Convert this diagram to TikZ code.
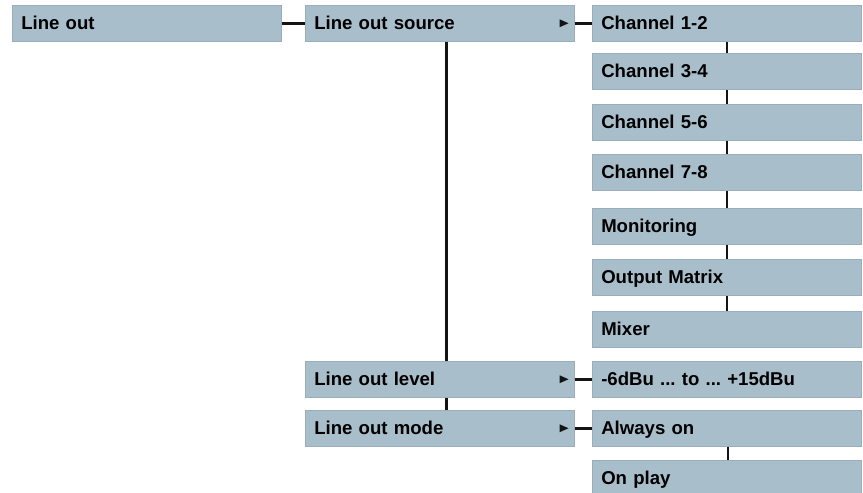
\documentclass[tikz,border=0pt]{standalone}
\usepackage{fontspec}
\setmainfont{Liberation Sans}
\frenchspacing
\begin{document}
\begin{tikzpicture}[x=1pt, y=-1pt,
		menubox/.style={fill=boxcolor, draw=edgecolor, line width=0.5pt, anchor=north west,
			minimum width=269pt, minimum height=36pt, text width=251pt, inner xsep=9pt, inner ysep=0pt,
			text height=13.4pt, text depth=0pt, align=left,
			font=\fontsize{18.6}{20}\selectfont\bfseries},
		link/.style={draw=linecolor, line width=2.7pt}]
			\definecolor{boxcolor}{rgb}{0.663, 0.745, 0.796}
			\definecolor{edgecolor}{rgb}{0.60, 0.68, 0.73}
			\definecolor{linecolor}{rgb}{0.08, 0.08, 0.08}
			\useasboundingbox (0, 0) rectangle (863, 493);

			\node[menubox] (lineout) at (12, 5) {Line out};
			\node[menubox] (source) at (305, 5) {Line out source};
			\node[menubox] (level) at (305, 361) {Line out level};
			\node[menubox] (mode) at (305, 410) {Line out mode};

			\node[menubox] (ch12) at (592, 5) {Channel 1-2};
			\node[menubox] (ch34) at (592, 53) {Channel 3-4};
			\node[menubox] (ch56) at (592, 104) {Channel 5-6};
			\node[menubox] (ch78) at (592, 154) {Channel 7-8};
			\node[menubox] (monitor) at (592, 208) {Monitoring};
			\node[menubox] (matrix) at (592, 259) {Output Matrix};
			\node[menubox] (mixer) at (592, 311) {Mixer};
			\node[menubox] (range) at (592, 361) {-6dBu ... to ... +15dBu};
			\node[menubox] (always) at (592, 410) {Always on};
			\node[menubox] (onplay) at (592, 460) {On play};

			\draw[link] (lineout.east) -- (source.west);
			\begin{scope}[link]
				\draw (source.east) -- (ch12.west);
				\draw (level.east) -- (range.west);
				\draw (mode.east) -- (always.west);
				\draw ([xshift=6.5pt]source.south) -- ([xshift=6.5pt]level.north);
				\draw ([xshift=6.5pt]level.south) -- ([xshift=6.5pt]mode.north);
			\end{scope}
			\begin{scope}[link, line width=2.5pt]
				\draw (ch12.south) -- (ch34.north);
				\draw (ch34.south) -- (ch56.north);
				\draw (ch56.south) -- (ch78.north);
				\draw (ch78.south) -- (monitor.north);
				\draw (monitor.south) -- (matrix.north);
				\draw (matrix.south) -- (mixer.north);
				\draw ([xshift=1pt]always.south) -- ([xshift=1pt]onplay.north);
			\end{scope}
			\fill[linecolor] ([xshift=-6pt]source.east) -- ++(-9pt, -4pt) -- ++(0, 8pt) -- cycle;
			\fill[linecolor] ([xshift=-6pt]level.east) -- ++(-9pt, -4pt) -- ++(0, 8pt) -- cycle;
			\fill[linecolor] ([xshift=-6pt]mode.east) -- ++(-9pt, -4pt) -- ++(0, 8pt) -- cycle;
		\end{tikzpicture}
\end{document}
